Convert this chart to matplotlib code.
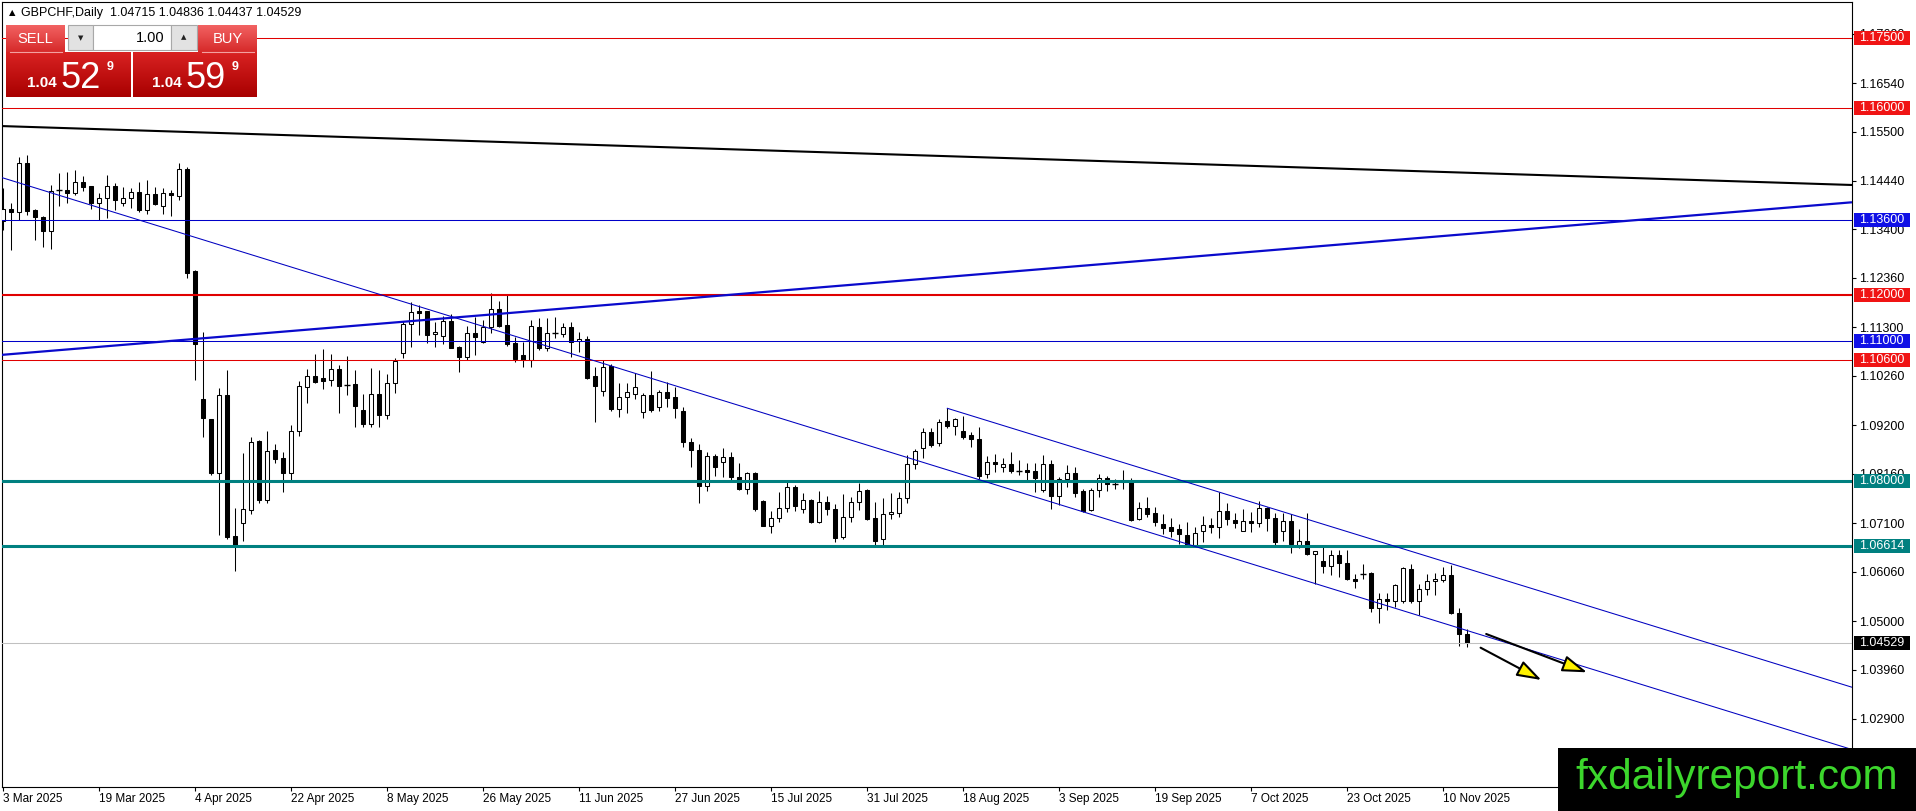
import numpy as np
import pandas as pd
import matplotlib
matplotlib.use("Agg")
import matplotlib.pyplot as plt
import matplotlib.transforms as mtransforms
from matplotlib.patches import Rectangle
from matplotlib.colors import LinearSegmentedColormap

plt.rcParams['font.family'] = ['Liberation Sans', 'DejaVu Sans']

# ---------------- data ----------------
opens = [1.1358, 1.1384, 1.1378, 1.1483, 1.1382, 1.1367, 1.1337, 1.1425, 1.1424, 1.1418,
         1.1442, 1.1433, 1.1397, 1.1408, 1.1433, 1.1397, 1.1408, 1.1420, 1.1382, 1.1416,
         1.1390, 1.1419, 1.1412, 1.1470, 1.1251, 1.0976, 1.0933, 1.0818, 1.0985, 1.0682,
         1.0710, 1.0738, 1.0886, 1.0760, 1.0868, 1.0850, 1.0818, 1.0908, 1.1002, 1.1026,
         1.1021, 1.1017, 1.1041, 1.1007, 1.1008, 1.0953, 1.0923, 1.0987, 1.0942, 1.1011,
         1.1075, 1.1137, 1.1165, 1.1165, 1.1116, 1.1112, 1.1144, 1.1088, 1.1067, 1.1118,
         1.1099, 1.1131, 1.1169, 1.1135, 1.1097, 1.1071, 1.1060, 1.1131, 1.1086, 1.1119,
         1.1115, 1.1131, 1.1101, 1.1105, 1.1026, 1.0994, 1.1047, 1.0955, 1.0981, 1.0987,
         1.0948, 1.0985, 1.0959, 1.0991, 1.0980, 1.0951, 1.0884, 1.0868, 1.0790, 1.0854,
         1.0841, 1.0852, 1.0809, 1.0783, 1.0818, 1.0758, 1.0704, 1.0721, 1.0742, 1.0787,
         1.0740, 1.0760, 1.0713, 1.0756, 1.0740, 1.0680, 1.0724, 1.0755, 1.0781, 1.0721,
         1.0676, 1.0730, 1.0732, 1.0764, 1.0837, 1.0871, 1.0906, 1.0882, 1.0929, 1.0919,
         1.0908, 1.0899, 1.0890, 1.0816, 1.0842, 1.0831, 1.0837, 1.0822, 1.0824, 1.0822,
         1.0781, 1.0837, 1.0769, 1.0805, 1.0818, 1.0779, 1.0738, 1.0781, 1.0807, 1.0794,
         1.0800, 1.0800, 1.0718, 1.0742, 1.0732, 1.0708, 1.0701, 1.0698, 1.0685, 1.0663,
         1.0693, 1.0706, 1.0701, 1.0736, 1.0717, 1.0693, 1.0715, 1.0710, 1.0743, 1.0721,
         1.0693, 1.0715, 1.0663, 1.0672, 1.0644, 1.0629, 1.0618, 1.0642, 1.0625, 1.0591,
         1.0601, 1.0604, 1.0528, 1.0547, 1.0543, 1.0543, 1.0612, 1.0543, 1.0569, 1.0586,
         1.0588, 1.0599, 1.0518, 1.04715]
highs = [1.1429, 1.1397, 1.1496, 1.1500, 1.1384, 1.1368, 1.1435, 1.1461, 1.1463, 1.1468,
         1.1455, 1.1434, 1.1418, 1.1457, 1.1440, 1.1431, 1.1429, 1.1442, 1.1446, 1.1431,
         1.1429, 1.1425, 1.1483, 1.1474, 1.1253, 1.1120, 1.0934, 1.1000, 1.1039, 1.0742,
         1.0861, 1.0895, 1.0888, 1.0908, 1.0880, 1.0863, 1.0921, 1.1015, 1.1041, 1.1073,
         1.1084, 1.1073, 1.1049, 1.1069, 1.1039, 1.0987, 1.1043, 1.1039, 1.1030, 1.1064,
         1.1144, 1.1184, 1.1178, 1.1166, 1.1142, 1.1154, 1.1159, 1.1089, 1.1133, 1.1152,
         1.1146, 1.1204, 1.1187, 1.1202, 1.1109, 1.1099, 1.1146, 1.1150, 1.1150, 1.1152,
         1.1139, 1.1142, 1.1120, 1.1112, 1.1045, 1.1060, 1.1051, 1.1011, 1.1011, 1.1032,
         1.0989, 1.1036, 1.0996, 1.1013, 1.1002, 1.0959, 1.0893, 1.0880, 1.0863, 1.0858,
         1.0871, 1.0863, 1.0839, 1.0820, 1.0820, 1.0759, 1.0736, 1.0777, 1.0803, 1.0792,
         1.0775, 1.0762, 1.0779, 1.0769, 1.0751, 1.0773, 1.0766, 1.0796, 1.0783, 1.0756,
         1.0764, 1.0775, 1.0777, 1.0857, 1.0869, 1.0914, 1.0914, 1.0933, 1.0957, 1.0936,
         1.0940, 1.0906, 1.0916, 1.0855, 1.0858, 1.0850, 1.0863, 1.0846, 1.0839, 1.0840,
         1.0857, 1.0846, 1.0809, 1.0835, 1.0831, 1.0783, 1.0786, 1.0816, 1.0811, 1.0804,
         1.0824, 1.0807, 1.0755, 1.0766, 1.0745, 1.0730, 1.0721, 1.0708, 1.0713, 1.0702,
         1.0725, 1.0721, 1.0776, 1.0753, 1.0732, 1.0740, 1.0734, 1.0758, 1.0745, 1.0732,
         1.0732, 1.0730, 1.0697, 1.0732, 1.0651, 1.0660, 1.0653, 1.0653, 1.0653, 1.0601,
         1.0622, 1.0606, 1.0560, 1.0560, 1.0580, 1.0616, 1.0622, 1.0579, 1.0601, 1.0603,
         1.0616, 1.0620, 1.0527, 1.04836]
lows = [1.1339, 1.1296, 1.1360, 1.1371, 1.1317, 1.1302, 1.1298, 1.1390, 1.1397, 1.1414,
        1.1423, 1.1384, 1.1360, 1.1365, 1.1382, 1.1390, 1.1386, 1.1378, 1.1373, 1.1393,
        1.1373, 1.1369, 1.1403, 1.1236, 1.1017, 1.0895, 1.0813, 1.0685, 1.0676, 1.0607,
        1.0672, 1.0730, 1.0753, 1.0753, 1.0839, 1.0777, 1.0798, 1.0896, 1.0968, 1.1011,
        1.0998, 1.1004, 1.0946, 1.0985, 1.0916, 1.0916, 1.0916, 1.0916, 1.0933, 1.0989,
        1.1064, 1.1088, 1.1114, 1.1097, 1.1088, 1.1094, 1.1085, 1.1034, 1.1060, 1.1071,
        1.1097, 1.1118, 1.1131, 1.1090, 1.1056, 1.1045, 1.1045, 1.1082, 1.1079, 1.1107,
        1.1109, 1.1066, 1.1077, 1.1020, 1.0927, 1.0983, 1.0951, 1.0938, 1.0946, 1.0976,
        1.0936, 1.0948, 1.0951, 1.0959, 1.0936, 1.0873, 1.0831, 1.0753, 1.0779, 1.0811,
        1.0809, 1.0800, 1.0782, 1.0773, 1.0736, 1.0703, 1.0689, 1.0713, 1.0735, 1.0737,
        1.0731, 1.0710, 1.0710, 1.0728, 1.0670, 1.0676, 1.0713, 1.0738, 1.0717, 1.0660,
        1.0660, 1.0719, 1.0724, 1.0753, 1.0826, 1.0850, 1.0873, 1.0876, 1.0914, 1.0899,
        1.0890, 1.0873, 1.0805, 1.0807, 1.0820, 1.0819, 1.0818, 1.0813, 1.0803, 1.0777,
        1.0777, 1.0740, 1.0748, 1.0787, 1.0766, 1.0735, 1.0736, 1.0766, 1.0779, 1.0783,
        1.0783, 1.0715, 1.0717, 1.0723, 1.0704, 1.0687, 1.0680, 1.0665, 1.0660, 1.0660,
        1.0670, 1.0689, 1.0678, 1.0706, 1.0700, 1.0693, 1.0691, 1.0702, 1.0693, 1.0660,
        1.0671, 1.0646, 1.0656, 1.0642, 1.0580, 1.0603, 1.0599, 1.0595, 1.0588, 1.0571,
        1.0590, 1.0519, 1.0496, 1.0524, 1.0530, 1.0539, 1.0539, 1.0513, 1.0556, 1.0556,
        1.0584, 1.0516, 1.0447, 1.04437]
closes = [1.1384, 1.1378, 1.1483, 1.1380, 1.1367, 1.1337, 1.1423, 1.1424, 1.1418, 1.1442,
          1.1431, 1.1397, 1.1408, 1.1433, 1.1403, 1.1408, 1.1420, 1.1382, 1.1416, 1.1395,
          1.1418, 1.1414, 1.1470, 1.1247, 1.1094, 1.0936, 1.0818, 1.0985, 1.0680, 1.0663,
          1.0740, 1.0884, 1.0760, 1.0865, 1.0848, 1.0818, 1.0908, 1.1004, 1.1026, 1.1013,
          1.1015, 1.1041, 1.1004, 1.1006, 1.0961, 1.0923, 1.0987, 1.0942, 1.1011, 1.1058,
          1.1137, 1.1163, 1.1161, 1.1114, 1.1120, 1.1144, 1.1086, 1.1067, 1.1118, 1.1109,
          1.1131, 1.1169, 1.1133, 1.1094, 1.1062, 1.1060, 1.1133, 1.1086, 1.1118, 1.1118,
          1.1131, 1.1099, 1.1105, 1.1021, 1.1004, 1.1045, 1.0955, 1.0981, 1.0991, 1.1002,
          1.0985, 1.0953, 1.0992, 1.0978, 1.0957, 1.0884, 1.0868, 1.0790, 1.0854, 1.0831,
          1.0852, 1.0809, 1.0783, 1.0818, 1.0740, 1.0704, 1.0721, 1.0742, 1.0787, 1.0747,
          1.0760, 1.0713, 1.0756, 1.0740, 1.0678, 1.0724, 1.0755, 1.0779, 1.0719, 1.0671,
          1.0730, 1.0734, 1.0764, 1.0837, 1.0865, 1.0906, 1.0878, 1.0927, 1.0919, 1.0933,
          1.0895, 1.0890, 1.0811, 1.0841, 1.0837, 1.0837, 1.0822, 1.0821, 1.0820, 1.0807,
          1.0837, 1.0769, 1.0805, 1.0818, 1.0775, 1.0736, 1.0781, 1.0807, 1.0794, 1.0793,
          1.0798, 1.0717, 1.0742, 1.0730, 1.0713, 1.0700, 1.0693, 1.0687, 1.0663, 1.0689,
          1.0706, 1.0701, 1.0736, 1.0718, 1.0711, 1.0715, 1.0710, 1.0742, 1.0721, 1.0670,
          1.0715, 1.0665, 1.0672, 1.0644, 1.0650, 1.0618, 1.0642, 1.0625, 1.0590, 1.0586,
          1.0600, 1.0528, 1.0547, 1.0543, 1.0577, 1.0614, 1.0543, 1.0569, 1.0586, 1.0590,
          1.0599, 1.0517, 1.0472, 1.04529]

dates = pd.bdate_range('2025-03-03', periods=len(opens))
xtick_labels = ['3 Mar 2025', '19 Mar 2025', '4 Apr 2025', '22 Apr 2025', '8 May 2025',
                '26 May 2025', '11 Jun 2025', '27 Jun 2025', '15 Jul 2025', '31 Jul 2025',
                '18 Aug 2025', '3 Sep 2025', '19 Sep 2025', '7 Oct 2025', '23 Oct 2025',
                '10 Nov 2025']
ytick_values = [1.17600, 1.16540, 1.15500, 1.14440, 1.13400, 1.12360, 1.11300, 1.10260,
                1.09200, 1.08160, 1.07100, 1.06060, 1.05000, 1.03960, 1.02900]

# horizontal levels
levels = [1.17500, 1.16000, 1.13600, 1.12000, 1.11000, 1.10600, 1.08000, 1.06614]
level_kinds = ['red', 'red', 'blue', 'red2', 'blue', 'red', 'teal', 'teal']
bid_price = 1.04529

# trend lines: (bar index, price) pairs
trend_black = [(-0.375, 1.15619), (231.125, 1.14354)]
trend_blue_up = [(-0.375, 1.10707), (231.125, 1.13983)]
channel_low = [(-0.375, 1.14525), (231.125, 1.02245)]
channel_up = [(118.04, 1.09564), (231.16, 1.03579)]
arrow_a = [(184.7, 1.04429), (192.3, 1.03736)]
arrow_b = [(185.4, 1.04723), (198.0, 1.03901)]

header = "GBPCHF,Daily  1.04715 1.04836 1.04437 1.04529"

# ---------------- figure ----------------
W, H = 1916, 811
fig = plt.figure(figsize=(W / 100, H / 100), dpi=100)
fig.patch.set_facecolor('white')

ax_l, ax_r, ax_t, ax_b = 2, 1852, 2, 787
ax = fig.add_axes([ax_l / W, (H - ax_b) / H, (ax_r - ax_l) / W, (ax_b - ax_t) / H])
ax.set_facecolor('white')

O = np.array(opens); Hh = np.array(highs); L = np.array(lows); C = np.array(closes)
n = len(O)
xi = np.arange(n)

# wicks
ax.vlines(xi, L, Hh, color='black', lw=0.75, zorder=2)
# bodies
doji = np.abs(C - O) < 0.00012
bull = C > O
body_w = 0.56
nd = ~doji
ax.bar(xi[nd], (C - O)[nd], bottom=O[nd], width=body_w,
       color=np.where(bull[nd], 'white', 'black'), edgecolor='black', lw=0.75, zorder=3)
ax.hlines(((O + C) / 2)[doji], xi[doji] - 0.32, xi[doji] + 0.32, color='black', lw=1.0, zorder=3)

# horizontal level lines
kind_style = {'red': ('#E00000', 0.75), 'red2': ('#E00000', 1.5), 'blue': ('#0000C8', 0.75),
              'teal': ('#008080', 2.2)}
for lv, kd in zip(levels, level_kinds):
    col, lw = kind_style[kd]
    ax.axhline(lv, color=col, lw=lw, zorder=4)
ax.axhline(bid_price, color='#C0C0C0', lw=0.75, zorder=4)

def seg(pts, **kw):
    ax.plot([pts[0][0], pts[1][0]], [pts[0][1], pts[1][1]], **kw)

seg(trend_black, color='black', lw=1.5, zorder=4, solid_capstyle='butt')
seg(trend_blue_up, color='#0A0ACC', lw=1.6, zorder=4, solid_capstyle='butt')
seg(channel_low, color='#0000C0', lw=0.75, zorder=4)
seg(channel_up, color='#0000C0', lw=0.75, zorder=4)

for arr in (arrow_a, arrow_b):
    ax.annotate('', xy=arr[1], xytext=arr[0],
                arrowprops=dict(arrowstyle='-|>,head_length=0.75,head_width=0.25',
                                facecolor='#FFF200', edgecolor='black', lw=1.5,
                                mutation_scale=20, shrinkA=0, shrinkB=0),
                zorder=6)

ax.set_xlim(-0.125, 231.125)
ax.set_ylim(1.01441, 1.18279)

# axes styling
for sp in ax.spines.values():
    sp.set_color('black')
    sp.set_linewidth(0.8)
ax.yaxis.tick_right()
ax.set_yticks(ytick_values)
ax.set_yticklabels([f"{v:.5f}" for v in ytick_values])
ax.tick_params(axis='y', direction='out', length=3, width=0.8, pad=2, labelsize=9, colors='black')

date_strs = [f"{d.day} {d.strftime('%b %Y')}" for d in dates]
xpos = [date_strs.index(lbl) for lbl in xtick_labels]
ax.set_xticks(xpos)
ax.set_xticklabels(xtick_labels)
for t in ax.get_xticklabels():
    t.set_horizontalalignment('left')
ax.tick_params(axis='x', direction='out', length=3, width=0.8, pad=1.5, labelsize=8.5, colors='black')

# price labels on the right scale
blend = mtransforms.blended_transform_factory(fig.transFigure, ax.transData)
box_color = {'red': '#F01414', 'red2': '#F01414', 'blue': '#1010E6', 'teal': '#008080'}
label_items = [(lv, box_color[kd]) for lv, kd in zip(levels, level_kinds)] + [(bid_price, '#000000')]
for lv, col in label_items:
    fig.add_artist(Rectangle((1854 / W, lv - 0.0015), 56 / W, 0.0030, transform=blend,
                             facecolor=col, edgecolor='none', zorder=5))
    fig.text(1859 / W, lv, f"{lv:.5f}", transform=blend, color='white', fontsize=9,
             ha='left', va='center', zorder=6)

# ---------------- overlay (pixel coords) ----------------
ov = fig.add_axes([0, 0, 1, 1], zorder=10)
ov.set_xlim(0, W)
ov.set_ylim(H, 0)
ov.axis('off')
ov.patch.set_alpha(0)

def grad_box(x0, x1, y0, y1, top, bot):
    cm = LinearSegmentedColormap.from_list('g', [top, bot])
    g = np.linspace(0, 1, 64).reshape(-1, 1)
    ov.imshow(g, cmap=cm, extent=[x0, x1, y1, y0], aspect='auto', zorder=11,
              interpolation='bilinear')

# header
ov.text(9, 13, '\u25B2', fontsize=6, ha='left', va='center', color='black',
        family=['DejaVu Sans'], zorder=12)
ov.text(21, 13, header, fontsize=9, ha='left', va='center', color='black', zorder=12)

# trade panel
grad_box(6, 65, 25, 52, '#F26262', '#D62A2A')
grad_box(198, 257, 25, 52, '#F26262', '#D62A2A')
grad_box(6, 131, 52, 97, '#D92222', '#A80000')
grad_box(133, 257, 52, 97, '#D92222', '#A80000')
ov.plot([10, 62], [52, 52], color='#F3A0A0', lw=0.8, zorder=12)
ov.plot([202, 254], [52, 52], color='#F3A0A0', lw=0.8, zorder=12)
ov.add_patch(Rectangle((68, 25), 25, 25, facecolor='#E2E2E2', edgecolor='#A8A8A8', lw=0.8, zorder=11))
ov.add_patch(Rectangle((93, 25), 78, 25, facecolor='white', edgecolor='#A8A8A8', lw=0.8, zorder=11))
ov.add_patch(Rectangle((171, 25), 26, 25, facecolor='#E2E2E2', edgecolor='#A8A8A8', lw=0.8, zorder=11))
ov.text(80.5, 38, '\u25BC', fontsize=5, ha='center', va='center', color='#222222',
        family=['DejaVu Sans'], zorder=12)
ov.text(184, 37, '\u25B2', fontsize=5, ha='center', va='center', color='#222222',
        family=['DejaVu Sans'], zorder=12)
ov.text(165, 38, '1.00', fontsize=10.5, ha='right', va='center', color='black', zorder=12)
ov.text(35.5, 39, 'SELL', fontsize=10.5, ha='center', va='center', color='white', zorder=12)
ov.text(227.5, 39, 'BUY', fontsize=10.5, ha='center', va='center', color='white', zorder=12)
for xs, big in ((27, '52'), (152, '59')):
    ov.text(xs, 87, '1.04', fontsize=11, fontweight='bold', ha='left', va='baseline',
            color='white', zorder=12)
    ov.text(xs + 34, 88, big, fontsize=26, ha='left', va='baseline', color='white', zorder=12)
    ov.text(xs + 80, 70, '9', fontsize=9, fontweight='bold', ha='left', va='baseline',
            color='white', zorder=12)

# watermark
ov.add_patch(Rectangle((1558, 748), W - 1558, H - 748, facecolor='black', edgecolor='none', zorder=13))
ov.text(1575, 789, 'fxdailyreport.com', fontsize=30.5, ha='left', va='baseline',
        color='#3CD62C', zorder=14)

fig.savefig('out.png', dpi=100, facecolor='white')
